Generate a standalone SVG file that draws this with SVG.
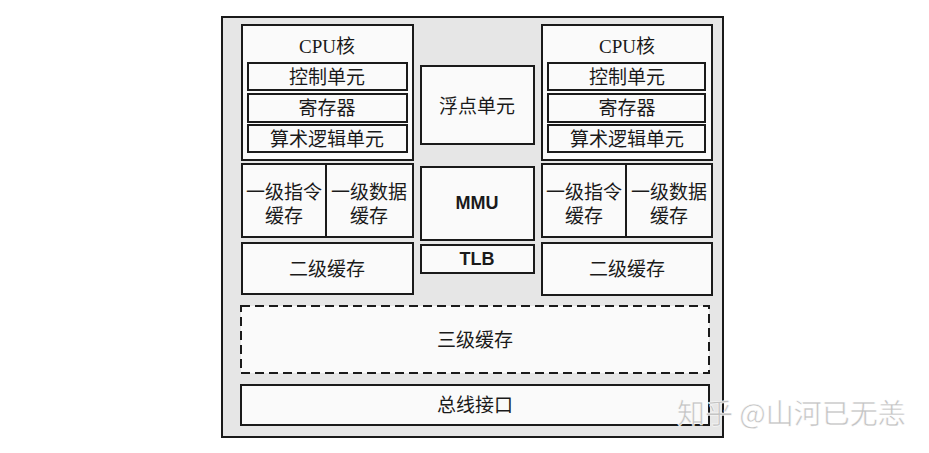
<svg xmlns="http://www.w3.org/2000/svg" width="929" height="453" viewBox="0 0 929 453">
<style>
.b{fill:#fafafa;stroke:#1a1a1a;stroke-width:2}
.t{font-family:"Liberation Serif","Noto Sans CJK SC",serif;font-size:19px;fill:#1a1a1a;text-anchor:middle;dominant-baseline:central}
.s{font-family:"Liberation Sans","Noto Sans CJK SC",sans-serif;font-size:18px;font-weight:bold;fill:#1a1a1a;text-anchor:middle;dominant-baseline:central}
</style>
<rect width="929" height="453" fill="#ffffff"/>
<g id="frame"><rect x="222" y="17" width="501" height="420" fill="#e6e6e6" stroke="#1a1a1a" stroke-width="2"/></g>
<g id="cpu-left">
<rect class="b" x="242" y="25" width="171" height="135"/>
<text class="t" x="327" y="46">CPU核</text>
</g>
<g id="ctrl-left"><rect class="b" x="248" y="63" width="159" height="27"/><text class="t" x="327" y="77">控制单元</text></g>
<g id="reg-left"><rect class="b" x="248" y="94" width="159" height="28"/><text class="t" x="327" y="108">寄存器</text></g>
<g id="alu-left"><rect class="b" x="248" y="125" width="159" height="27"/><text class="t" x="327" y="139">算术逻辑单元</text></g>
<g id="l1i-left"><rect class="b" x="242" y="164" width="84" height="73"/><text class="t" x="284" y="192">一级指令</text><text class="t" x="284" y="216">缓存</text></g>
<g id="l1d-left"><rect class="b" x="326" y="164" width="87" height="73"/><text class="t" x="369" y="192">一级数据</text><text class="t" x="369" y="216">缓存</text></g>
<g id="l2-left"><rect class="b" x="242" y="243" width="171" height="51"/><text class="t" x="327" y="269">二级缓存</text></g>
<g id="fpu"><rect class="b" x="421" y="66" width="113" height="78"/><text class="t" x="477" y="106">浮点单元</text></g>
<g id="mmu"><rect class="b" x="421" y="167" width="113" height="73"/><text class="s" x="477" y="203">MMU</text></g>
<g id="tlb"><rect class="b" x="421" y="245" width="113" height="28"/><text class="s" x="477" y="259">TLB</text></g>
<g id="cpu-right">
<rect class="b" x="542" y="25" width="170" height="135"/>
<text class="t" x="627" y="46">CPU核</text>
</g>
<g id="ctrl-right"><rect class="b" x="548" y="63" width="157" height="27"/><text class="t" x="627" y="77">控制单元</text></g>
<g id="reg-right"><rect class="b" x="548" y="94" width="157" height="28"/><text class="t" x="627" y="108">寄存器</text></g>
<g id="alu-right"><rect class="b" x="548" y="125" width="157" height="27"/><text class="t" x="627" y="139">算术逻辑单元</text></g>
<g id="l1i-right"><rect class="b" x="542" y="164" width="84" height="73"/><text class="t" x="584" y="192">一级指令</text><text class="t" x="584" y="216">缓存</text></g>
<g id="l1d-right"><rect class="b" x="626" y="164" width="86" height="73"/><text class="t" x="669" y="192">一级数据</text><text class="t" x="669" y="216">缓存</text></g>
<g id="l2-right"><rect class="b" x="542" y="243" width="170" height="52"/><text class="t" x="627" y="269">二级缓存</text></g>
<g id="l3"><rect x="241" y="306" width="468" height="67" fill="#fafafa" stroke="#1a1a1a" stroke-width="2" stroke-dasharray="9,5"/><text class="t" x="475" y="340">三级缓存</text></g>
<g id="bus"><rect class="b" x="241" y="385" width="468" height="40"/><text class="t" x="475" y="405">总线接口</text></g>
<g id="connectors"></g>
<text x="677" y="412" font-family="'Noto Sans CJK SC',sans-serif" font-size="28" fill="#c4c4c4" stroke="#ffffff" stroke-width="0.5" dominant-baseline="central">知乎 @山河已无恙</text>
</svg>
